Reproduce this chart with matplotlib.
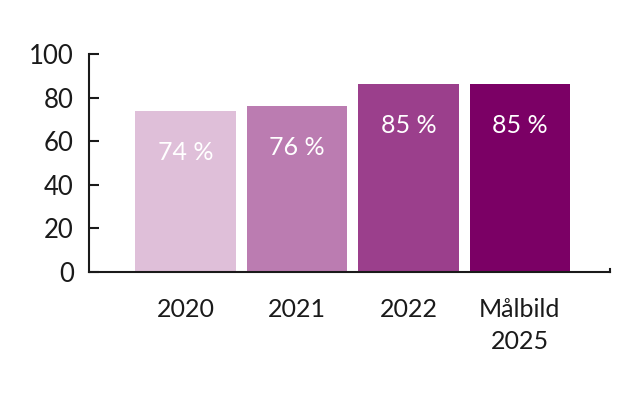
import matplotlib.pyplot as plt
import numpy as np

plt.rcParams['font.family'] = ['Lato', 'DejaVu Sans']

# data
categories = ['2020', '2021', '2022', 'Målbild\n2025']
values = [74, 76, 86, 86]
labels = ['74 %', '76 %', '85 %', '85 %']
colors = ['#dfbfd9', '#bb7cb1', '#9b3f8c', '#7b0065']

fig = plt.figure(figsize=(6.4, 3.94), dpi=100)
ax = fig.add_axes([0.139, 0.310, 0.814, 0.553])

x = np.arange(len(categories))
bars = ax.bar(x, values, width=0.9, color=colors)

# value labels inside the bars
for xi, v, lab in zip(x, values, labels):
    ax.text(xi, v - 19, lab, ha='center', va='center', color='white',
            fontsize=18, fontweight='normal')

ax.set_xlim(-0.865, 3.807)
ax.set_ylim(0, 100)
ax.set_yticks([0, 20, 40, 60, 80, 100])
ax.set_xticks(x)
ax.set_xticklabels(categories, linespacing=1.45)

ax.tick_params(axis='y', direction='in', length=7, width=1.5, labelsize=18.5,
               pad=11, colors='#1a1a1a')
ax.tick_params(axis='x', length=0, labelsize=18, pad=19, colors='#1a1a1a')

ax.spines['top'].set_visible(False)
ax.spines['right'].set_bounds(0, 1.5)
for s in ['left', 'bottom', 'right']:
    ax.spines[s].set_linewidth(1.5)
    ax.spines[s].set_color('#1a1a1a')

fig.savefig('out.png', dpi=100)
